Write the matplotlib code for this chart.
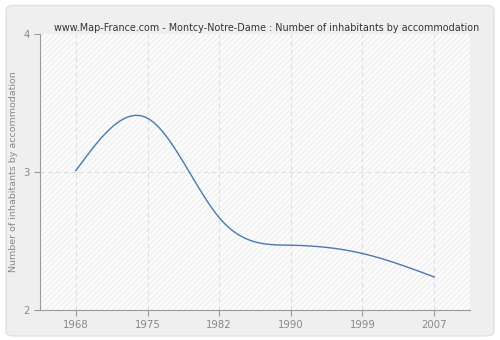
import matplotlib.pyplot as plt
import numpy as np
from matplotlib.patches import FancyBboxPatch, Rectangle

years = ["1968", "1975", "1982", "1990", "1999", "2007"]
values = [3.01, 3.39, 2.67, 2.47, 2.41, 2.24]
yticks = [2, 3, 4]


# natural cubic spline through equally spaced points
def spline(y, n=300):
	y = np.asarray(y, dtype=float)
	k = len(y)
	A = np.zeros((k, k))
	b = np.zeros(k)
	A[0, 0] = A[-1, -1] = 1
	for i in range(1, k - 1):
		A[i, i - 1], A[i, i], A[i, i + 1] = 1, 4, 1
		b[i] = 6 * (y[i + 1] - 2 * y[i] + y[i - 1])
	m = np.linalg.solve(A, b)
	xs = np.linspace(0, k - 1, n)
	ys = []
	for x in xs:
		i = min(int(x), k - 2)
		t = x - i
		ys.append((1 - t) * y[i] + t * y[i + 1]
			+ ((1 - t) ** 3 - (1 - t)) * m[i] / 6 + (t ** 3 - t) * m[i + 1] / 6)
	return xs, np.array(ys)


fig = plt.figure(figsize=(5, 3.4), dpi=100)
fig.patch.set_facecolor("white")
panel = FancyBboxPatch((0.012, 0.012), 0.976, 0.972, boxstyle="round,pad=0,rounding_size=0.015",
	transform=fig.transFigure, facecolor="#efefef", edgecolor="#e2e2e2", lw=1, zorder=-10)
fig.patches.append(panel)

ax = fig.add_axes([0.08, 0.088, 0.86, 0.812])
ax.set_facecolor("#fbfbfb")
plt.rcParams["hatch.linewidth"] = 0.5
ax.add_patch(Rectangle((0, 0), 1, 1, transform=ax.transAxes, facecolor="none",
	edgecolor="#e8e8e8", hatch="//////", lw=0, zorder=0))

xs, ys = spline(values)
ax.plot(xs, ys, color="#4a78b0", lw=1, zorder=3)

ax.set_xlim(-0.5, len(years) - 0.5)
ax.set_ylim(2, 4)
ax.set_xticks(range(len(years)))
ax.set_xticklabels(years)
ax.set_yticks(yticks)
for x in range(len(years)):
	ax.axvline(x, color="#dedede", lw=0.8, ls=(0, (4, 3)), zorder=1)
ax.axhline(3, color="#dedede", lw=0.8, ls=(0, (4, 3)), zorder=1)

for s in ["top", "right"]:
	ax.spines[s].set_visible(False)
for s in ["left", "bottom"]:
	ax.spines[s].set_color("#999999")
ax.tick_params(colors="#999999", labelcolor="#888888", labelsize=7.3, length=4, width=0.8)

ax.set_ylabel("Number of inhabitants by accommodation", color="#888888", fontsize=6.8)
ax.yaxis.set_label_coords(-0.05, 0.5)
fig.text(0.534, 0.917, "www.Map-France.com - Montcy-Notre-Dame : Number of inhabitants by accommodation",
	ha="center", va="center", fontsize=6.9, color="#333333")

fig.savefig("out.png", dpi=100)
